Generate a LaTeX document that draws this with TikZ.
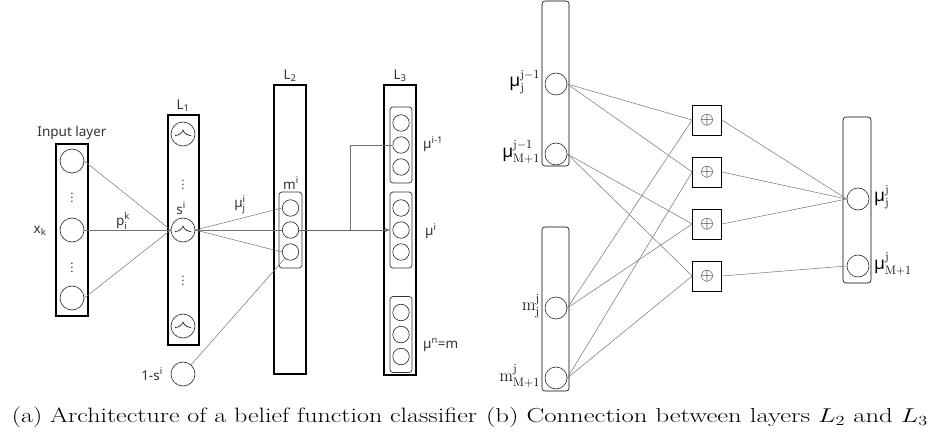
\documentclass[tikz,border=0pt]{standalone}
\usepackage{fontspec}
\usepackage{amsmath}
\usepackage{graphicx}
\newfontfamily\lab{Noto Sans}
\usetikzlibrary{arrows.meta}
\newcommand{\gauss}[1]{\draw[line width=0.6pt,shift={(#1.center)}] (-8,1.5) .. controls (-4,1.5) and (-1,-1) .. (0,-4) .. controls (1,-1) and (4,1.5) .. (8,1.5);}
\newcommand{\umu}{\text{\lab µ}}
\begin{document}
\begin{tikzpicture}[x=1pt,y=-1pt,
 layerbox/.style={draw=black,line width=1.1pt,inner sep=0},
 grp/.style={draw=black!80,rounded corners=3pt,line width=0.7pt,inner sep=0},
 neu/.style={circle,draw=black!85,line width=0.6pt,minimum size=24pt,inner sep=0},
 sneu/.style={circle,draw=black!85,line width=0.6pt,minimum size=16.5pt,inner sep=0},
 rneu/.style={circle,draw=black!85,line width=0.6pt,minimum size=22pt,inner sep=0},
 plusbox/.style={draw=black,line width=0.7pt,minimum width=29pt,minimum height=30pt,inner sep=0,font=\fontsize{19}{19}\selectfont},
 conn/.style={draw=black!55,line width=0.5pt},
 lbl/.style={font=\lab\fontsize{13.5}{15}\selectfont,text=black!80,inner sep=0},
 rlbl/.style={font=\fontsize{17.5}{19}\selectfont,inner sep=0},
 vdots/.style={font=\fontsize{14}{14}\selectfont,inner sep=0},
 captxt/.style={font=\fontsize{21}{24}\selectfont,inner sep=0}]
\useasboundingbox (0,0) rectangle (933,435);

% ---------- (a) ----------
\node[layerbox,minimum width=32pt,minimum height=172pt] (inbox) at (72,230) {};
\node[lbl] (inlab) at (72,133) {Input layer};
\node[neu] (x1) at (72,161) {};
\node[neu] (x2) at (72,230) {};
\node[neu] (x3) at (72,298) {};
\node[vdots] (xd1) at (72,195) {$\vdots$};
\node[vdots] (xd2) at (72,265) {$\vdots$};
\node[lbl] (xk) at (40,231) {x$_{\text{k}}$};

\node[layerbox,minimum width=31pt,minimum height=230pt] (L1box) at (183.5,230) {};
\node[lbl] (L1lab) at (183,106) {L$_{\text{1}}$};
\node[neu] (s1) at (183,134) {};
\node[neu] (s2) at (183,230) {};
\node[neu] (s3) at (183,326) {};
\gauss{s1}\gauss{s2}\gauss{s3}
\node[vdots] (sd1) at (183,182) {$\vdots$};
\node[vdots] (sd2) at (183,278) {$\vdots$};
\node[lbl] (slab) at (181,208) {s$^{\text{i}}$};
\node[lbl] (plab) at (123,221) {p$^{\text{k}}_{\text{i}}$};

\node[neu] (ones) at (183,374) {};
\node[lbl] (oneslab) at (152,374) {1-s$^{\text{i}}$};

\node[layerbox,minimum width=32pt,minimum height=289pt] (L2box) at (290,229.5) {};
\node[lbl] (L2lab) at (290,76) {L$_{\text{2}}$};
\node[grp,minimum width=23pt,minimum height=76pt] (mg) at (290.5,230) {};
\node[sneu] (m1) at (290.5,208) {};
\node[sneu] (m2) at (290.5,230) {};
\node[sneu] (m3) at (290.5,252) {};
\node[lbl] (mlab) at (291,183) {m$^{\text{i}}$};
\node[lbl] (mulab) at (240,205) {µ$^{\text{i}}_{\text{j}}$};

\node[layerbox,minimum width=32pt,minimum height=290pt] (L3box) at (400,230) {};
\node[lbl] (L3lab) at (400,76) {L$_{\text{3}}$};
\node[grp,minimum width=22pt,minimum height=76pt] (ga) at (401,145) {};
\node[sneu] (a1) at (401,123) {};
\node[sneu] (a2) at (401,145) {};
\node[sneu] (a3) at (401,167) {};
\node[grp,minimum width=22pt,minimum height=76pt] (gb) at (401,230) {};
\node[sneu] (b1) at (401,208) {};
\node[sneu] (b2) at (401,230) {};
\node[sneu] (b3) at (401,252) {};
\node[grp,minimum width=22pt,minimum height=76pt] (gc) at (401,334.5) {};
\node[sneu] (c1) at (401,312.5) {};
\node[sneu] (c2) at (401,334.5) {};
\node[sneu] (c3) at (401,356.5) {};
\node[lbl,anchor=west] (mua) at (423,144) {µ$^{\text{i-1}}$};
\node[lbl,anchor=west] (mub) at (425,231) {µ$^{\text{i}}$};
\node[lbl,anchor=west] (muc) at (423,345) {µ$^{\text{n}}$=\textbf{m}};

\draw[conn] (x1.east) -- (s2.west);
\draw[conn] (x2.east) -- (s2.west);
\draw[conn] (x3.east) -- (s2.west);
\draw[conn] (s2.east) -- (m1.west);
\draw[conn] (s2.east) -- (m2.west);
\draw[conn] (s2.east) -- (m3.west);
\draw[conn] (ones) -- (m3);
\draw[conn,-{Stealth[length=5pt,width=4pt]},draw=black!60] (m2.east) -- (gb.west);
\coordinate (br) at (350,230);
\draw[conn] (br) |- (a2.west);

% ---------- (b) ----------
\node[grp,minimum width=27pt,minimum height=165pt,draw=black,line width=0.6pt] (tb) at (555.5,83.5) {};
\node[rneu] (u1) at (556,84) {};
\node[rneu] (u2) at (556,154) {};
\node[grp,minimum width=27pt,minimum height=164pt,draw=black,line width=0.6pt] (bb) at (555.5,309) {};
\node[rneu] (v1) at (556,308) {};
\node[rneu] (v2) at (556,378) {};
\node[rlbl,anchor=east] (u1l) at (540,82) {$\umu^{\mathrm{j-1}}_{\mathrm{j}}$};
\node[rlbl,anchor=east] (u2l) at (540,152) {$\umu^{\mathrm{j-1}}_{\mathrm{M+1}}$};
\node[rlbl,anchor=east] (v1l) at (540,306) {$\mathrm{m}^{\mathrm{j}}_{\mathrm{j}}$};
\node[rlbl,anchor=east] (v2l) at (540,376) {$\mathrm{m}^{\mathrm{j}}_{\mathrm{M+1}}$};

\node[plusbox] (p1) at (707,120) {$\oplus$};
\node[plusbox] (p2) at (707,172) {$\oplus$};
\node[plusbox] (p3) at (707,224) {$\oplus$};
\node[plusbox] (p4) at (707,276) {$\oplus$};

\node[grp,minimum width=28pt,minimum height=166pt,draw=black,line width=0.6pt] (ob) at (857,200) {};
\node[rneu] (w1) at (858,199) {};
\node[rneu] (w2) at (858,266) {};
\node[rlbl,anchor=west] (w1l) at (874,197) {$\umu^{\mathrm{j}}_{\mathrm{j}}$};
\node[rlbl,anchor=west] (w2l) at (874,264) {$\umu^{\mathrm{j}}_{\mathrm{M+1}}$};

\draw[conn] (u1.east) -- (p1.west);
\draw[conn] (u1.east) -- (p2.west);
\draw[conn] (u2.east) -- (p3.west);
\draw[conn] (u2.east) -- (p4.west);
\draw[conn] (v1.east) -- (p1.west);
\draw[conn] (v1.east) -- (p3.west);
\draw[conn] (v2.east) -- (p2.west);
\draw[conn] (v2.east) -- (p4.west);
\draw[conn] (p1.east) -- (w1.west);
\draw[conn] (p2.east) -- (w1.west);
\draw[conn] (p3.east) -- (w1.west);
\draw[conn] (p4.east) -- (w2.west);

% ---------- captions ----------
\node[captxt] (capa) at (244.5,417) {\resizebox{465pt}{!}{\scalebox{1}[0.8]{(a) Architecture of a belief function classifier}}};
\node[captxt] (capb) at (707,417) {\resizebox{442pt}{!}{\scalebox{1}[0.76]{(b) Connection between layers $L_2$ and $L_3$}}};
\end{tikzpicture}
\end{document}
